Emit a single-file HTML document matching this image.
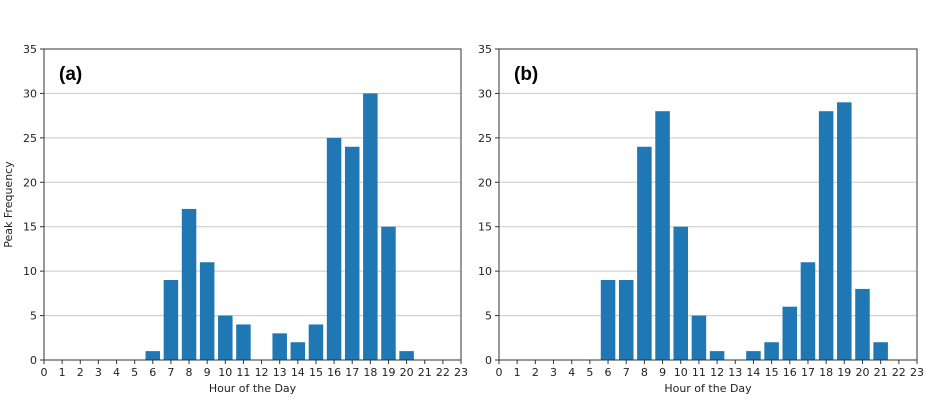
<!DOCTYPE html>
<html><head><meta charset="utf-8"><style>
body{margin:0;background:#fff}
svg{display:block;font-family:"DejaVu Sans","Liberation Sans",sans-serif}
</style></head><body>
<svg id="c" width="928" height="404"></svg>
<script>
const hours=[0,1,2,3,4,5,6,7,8,9,10,11,12,13,14,15,16,17,18,19,20,21,22,23];
const seriesA=[0,0,0,0,0,0,1,9,17,11,5,4,0,3,2,4,25,24,30,15,1,0,0,0];
const seriesB=[0,0,0,0,0,0,9,9,24,28,15,5,1,0,1,2,6,11,28,29,8,2,0,0];
const yTicks=[0,5,10,15,20,25,30,35];
const labels=["(a)","(b)"];
const NS="http://www.w3.org/2000/svg";
const svg=document.getElementById('c');
function mk(t,a,p){const e=document.createElementNS(NS,t);for(const k in a)e.setAttribute(k,a[k]);(p||svg).appendChild(e);return e;}
function panel(x0,x1,data,lab,showYLabel,idx){
  const y0=360,y1=49;
  const g=mk('g',{});
  
  
  const sx=v=>x0+(x1-x0)*v/23, sy=v=>y0-(y0-y1)*v/35;
  yTicks.forEach(t=>{
    if(t>0&&t<35){const l=mk('line',{x1:x0,x2:x1,y1:sy(t),y2:sy(t),stroke:'#c8c8c8','stroke-width':1},g);
    }
    mk('line',{x1:x0-4,x2:x0,y1:sy(t),y2:sy(t),stroke:'#333'},g);
    const tx=mk('text',{x:x0-7,y:sy(t)+4,'text-anchor':'end','font-size':11,fill:'#222'},g);
    tx.textContent=t;
    
  });
  data.forEach((v,i)=>{
    if(v<=0)return;
    const w=(x1-x0)/23*0.8;
    const r=mk('rect',{x:sx(hours[i])-w/2,y:sy(v),width:w,height:sy(0)-sy(v),fill:'#1f77b4'},g);
    
  });
  hours.forEach(h=>{
    mk('line',{x1:sx(h),x2:sx(h),y1:y0,y2:y0+4,stroke:'#333'},g);
    const tx=mk('text',{x:sx(h),y:y0+16,'text-anchor':'middle','font-size':11,fill:'#222'},g);
    tx.textContent=h;
    
  });
  const fr=mk('rect',{x:x0,y:y1,width:x1-x0,height:y0-y1,fill:'none',stroke:'#333','stroke-width':1},g);
  
  const xl=mk('text',{x:(x0+x1)/2,y:392,'text-anchor':'middle','font-size':11,fill:'#222'},g);
  xl.textContent='Hour of the Day';
  
  if(showYLabel){
    const yl=mk('text',{x:0,y:0,'text-anchor':'middle','font-size':11,fill:'#222',transform:'translate(12,'+((y0+y1)/2)+') rotate(-90)'},g);
    yl.textContent='Peak Frequency';
    
  }
  const pl=mk('text',{x:x0+15,y:80,'font-size':19,'font-weight':'bold','font-family':'Liberation Sans, sans-serif',fill:'#000'},g);
  pl.textContent=lab;
  
}
panel(44,461,seriesA,labels[0],true,0);
panel(499,917,seriesB,labels[1],false,1);
</script>
</body></html>
